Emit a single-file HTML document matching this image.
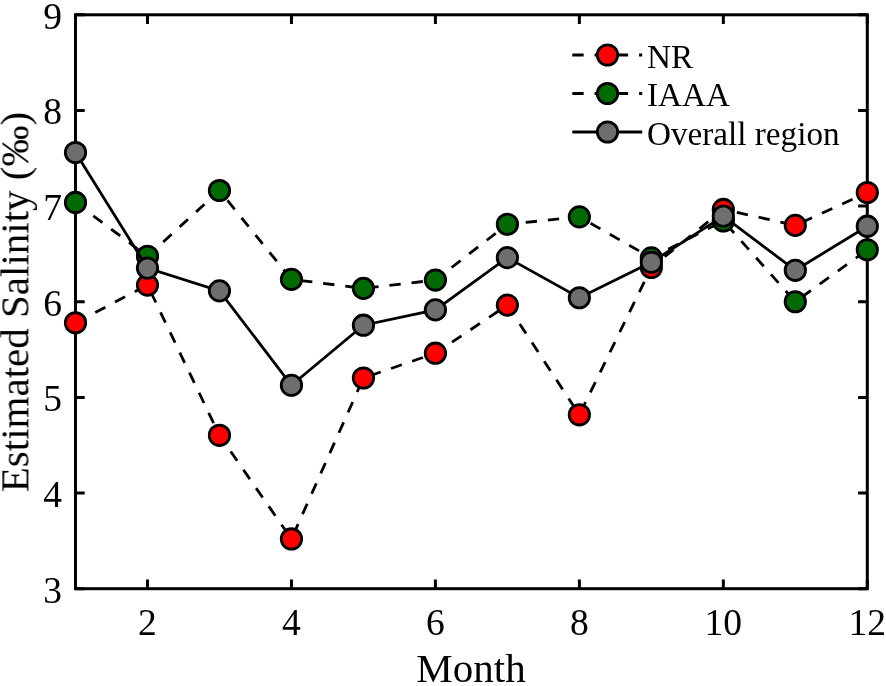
<!DOCTYPE html><html><head><meta charset="utf-8"><style>html,body{margin:0;padding:0;background:#fff;}svg{display:block;}text{font-family:"Liberation Serif",serif;fill:#000;}.t{opacity:0.999;}</style></head><body>
<svg width="886" height="686" viewBox="0 0 886 686">
<rect width="886" height="686" fill="#fff"/>
<path d="M147.48,588.70V579.50M147.48,14.80V24.00M291.45,588.70V579.50M291.45,14.80V24.00M435.41,588.70V579.50M435.41,14.80V24.00M579.37,588.70V579.50M579.37,14.80V24.00M723.34,588.70V579.50M723.34,14.80V24.00M867.30,588.70V579.50M867.30,14.80V24.00M75.50,588.70H84.70M867.30,588.70H858.10M75.50,493.05H84.70M867.30,493.05H858.10M75.50,397.40H84.70M867.30,397.40H858.10M75.50,301.75H84.70M867.30,301.75H858.10M75.50,206.10H84.70M867.30,206.10H858.10M75.50,110.45H84.70M867.30,110.45H858.10M75.50,14.80H84.70M867.30,14.80H858.10" stroke="#000" stroke-width="3.0" fill="none"/>
<rect x="75.5" y="14.8" width="791.80" height="573.90" fill="none" stroke="#000" stroke-width="3.0"/>
<polyline points="75.50,322.79 147.48,285.11 219.46,435.28 291.45,538.96 363.43,377.98 435.41,353.21 507.39,305.10 579.37,414.81 651.35,267.51 723.34,209.45 795.32,225.33 867.30,192.52" fill="none" stroke="#000" stroke-width="2.8" stroke-dasharray="11.38 10.91" stroke-linejoin="miter"/>
<circle cx="75.50" cy="322.79" r="10.2" fill="#ff0000" stroke="#000" stroke-width="2.8"/>
<circle cx="147.48" cy="285.11" r="10.2" fill="#ff0000" stroke="#000" stroke-width="2.8"/>
<circle cx="219.46" cy="435.28" r="10.2" fill="#ff0000" stroke="#000" stroke-width="2.8"/>
<circle cx="291.45" cy="538.96" r="10.2" fill="#ff0000" stroke="#000" stroke-width="2.8"/>
<circle cx="363.43" cy="377.98" r="10.2" fill="#ff0000" stroke="#000" stroke-width="2.8"/>
<circle cx="435.41" cy="353.21" r="10.2" fill="#ff0000" stroke="#000" stroke-width="2.8"/>
<circle cx="507.39" cy="305.10" r="10.2" fill="#ff0000" stroke="#000" stroke-width="2.8"/>
<circle cx="579.37" cy="414.81" r="10.2" fill="#ff0000" stroke="#000" stroke-width="2.8"/>
<circle cx="651.35" cy="267.51" r="10.2" fill="#ff0000" stroke="#000" stroke-width="2.8"/>
<circle cx="723.34" cy="209.45" r="10.2" fill="#ff0000" stroke="#000" stroke-width="2.8"/>
<circle cx="795.32" cy="225.33" r="10.2" fill="#ff0000" stroke="#000" stroke-width="2.8"/>
<circle cx="867.30" cy="192.52" r="10.2" fill="#ff0000" stroke="#000" stroke-width="2.8"/>
<polyline points="75.50,202.47 147.48,256.32 219.46,190.51 291.45,279.37 363.43,288.36 435.41,280.04 507.39,224.27 579.37,216.91 651.35,257.85 723.34,220.93 795.32,301.75 867.30,249.81" fill="none" stroke="#000" stroke-width="2.8" stroke-dasharray="11.35 10.9" stroke-linejoin="miter"/>
<circle cx="75.50" cy="202.47" r="10.2" fill="#026a02" stroke="#000" stroke-width="2.8"/>
<circle cx="147.48" cy="256.32" r="10.2" fill="#026a02" stroke="#000" stroke-width="2.8"/>
<circle cx="219.46" cy="190.51" r="10.2" fill="#026a02" stroke="#000" stroke-width="2.8"/>
<circle cx="291.45" cy="279.37" r="10.2" fill="#026a02" stroke="#000" stroke-width="2.8"/>
<circle cx="363.43" cy="288.36" r="10.2" fill="#026a02" stroke="#000" stroke-width="2.8"/>
<circle cx="435.41" cy="280.04" r="10.2" fill="#026a02" stroke="#000" stroke-width="2.8"/>
<circle cx="507.39" cy="224.27" r="10.2" fill="#026a02" stroke="#000" stroke-width="2.8"/>
<circle cx="579.37" cy="216.91" r="10.2" fill="#026a02" stroke="#000" stroke-width="2.8"/>
<circle cx="651.35" cy="257.85" r="10.2" fill="#026a02" stroke="#000" stroke-width="2.8"/>
<circle cx="723.34" cy="220.93" r="10.2" fill="#026a02" stroke="#000" stroke-width="2.8"/>
<circle cx="795.32" cy="301.75" r="10.2" fill="#026a02" stroke="#000" stroke-width="2.8"/>
<circle cx="867.30" cy="249.81" r="10.2" fill="#026a02" stroke="#000" stroke-width="2.8"/>
<polyline points="75.50,152.54 147.48,268.08 219.46,290.85 291.45,385.25 363.43,325.18 435.41,309.88 507.39,257.66 579.37,297.73 651.35,262.25 723.34,216.14 795.32,270.28 867.30,226.19" fill="none" stroke="#000" stroke-width="2.8" stroke-linejoin="miter"/>
<circle cx="75.50" cy="152.54" r="10.2" fill="#6e6e6e" stroke="#000" stroke-width="2.8"/>
<circle cx="147.48" cy="268.08" r="10.2" fill="#6e6e6e" stroke="#000" stroke-width="2.8"/>
<circle cx="219.46" cy="290.85" r="10.2" fill="#6e6e6e" stroke="#000" stroke-width="2.8"/>
<circle cx="291.45" cy="385.25" r="10.2" fill="#6e6e6e" stroke="#000" stroke-width="2.8"/>
<circle cx="363.43" cy="325.18" r="10.2" fill="#6e6e6e" stroke="#000" stroke-width="2.8"/>
<circle cx="435.41" cy="309.88" r="10.2" fill="#6e6e6e" stroke="#000" stroke-width="2.8"/>
<circle cx="507.39" cy="257.66" r="10.2" fill="#6e6e6e" stroke="#000" stroke-width="2.8"/>
<circle cx="579.37" cy="297.73" r="10.2" fill="#6e6e6e" stroke="#000" stroke-width="2.8"/>
<circle cx="651.35" cy="262.25" r="10.2" fill="#6e6e6e" stroke="#000" stroke-width="2.8"/>
<circle cx="723.34" cy="216.14" r="10.2" fill="#6e6e6e" stroke="#000" stroke-width="2.8"/>
<circle cx="795.32" cy="270.28" r="10.2" fill="#6e6e6e" stroke="#000" stroke-width="2.8"/>
<circle cx="867.30" cy="226.19" r="10.2" fill="#6e6e6e" stroke="#000" stroke-width="2.8"/>
<g class="t">
<text x="147.48" y="635" font-size="37.5" text-anchor="middle">2</text>
<text x="291.45" y="635" font-size="37.5" text-anchor="middle">4</text>
<text x="435.41" y="635" font-size="37.5" text-anchor="middle">6</text>
<text x="579.37" y="635" font-size="37.5" text-anchor="middle">8</text>
<text x="723.34" y="635" font-size="37.5" text-anchor="middle">10</text>
<text x="867.30" y="635" font-size="37.5" text-anchor="middle">12</text>
<text x="62" y="602.70" font-size="37.5" text-anchor="end">3</text>
<text x="62" y="507.05" font-size="37.5" text-anchor="end">4</text>
<text x="62" y="411.40" font-size="37.5" text-anchor="end">5</text>
<text x="62" y="315.75" font-size="37.5" text-anchor="end">6</text>
<text x="62" y="220.10" font-size="37.5" text-anchor="end">7</text>
<text x="62" y="124.45" font-size="37.5" text-anchor="end">8</text>
<text x="62" y="28.80" font-size="37.5" text-anchor="end">9</text>
<text x="471" y="682.2" font-size="41.0" text-anchor="middle">Month</text>
<text transform="translate(28.4,302.0) rotate(-90)" font-size="41.0" text-anchor="middle">Estimated Salinity (‰)</text>
<line x1="572.3" y1="55.0" x2="642.2" y2="55.0" stroke="#000" stroke-width="2.8" stroke-dasharray="11.35 10.9"/>
<circle cx="607.5" cy="55.0" r="10.2" fill="#ff0000" stroke="#000" stroke-width="2.8"/>
<text x="647" y="67.9" font-size="33.2">NR</text>
<line x1="572.3" y1="93.5" x2="642.2" y2="93.5" stroke="#000" stroke-width="2.8" stroke-dasharray="11.35 10.9"/>
<circle cx="607.5" cy="93.5" r="10.2" fill="#026a02" stroke="#000" stroke-width="2.8"/>
<text x="647" y="106.3" font-size="33.2">IAAA</text>
<line x1="572.3" y1="132.0" x2="642.2" y2="132.0" stroke="#000" stroke-width="2.8"/>
<circle cx="607.5" cy="132.0" r="10.2" fill="#6e6e6e" stroke="#000" stroke-width="2.8"/>
<text x="647" y="144.8" font-size="33.2">Overall region</text>
</g>
</svg></body></html>
